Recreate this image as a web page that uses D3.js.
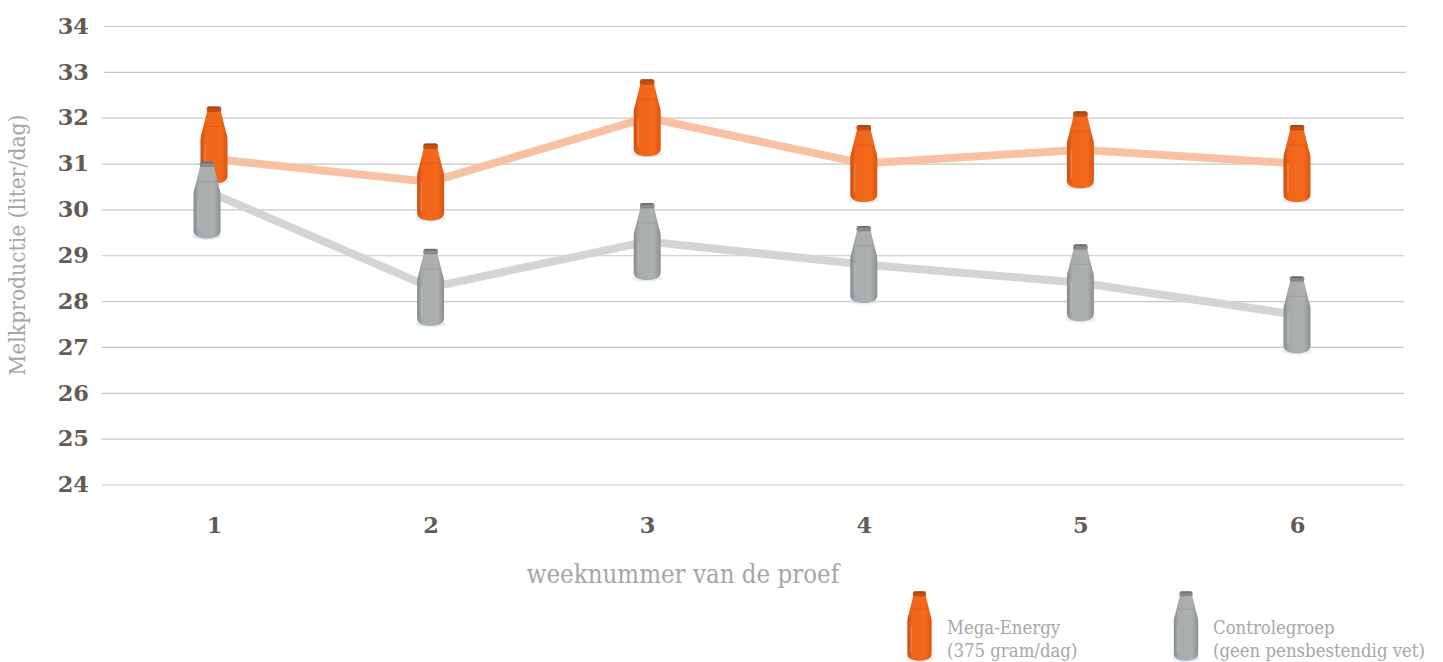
<!DOCTYPE html>
<html>
<head>
<meta charset="utf-8">
<script src="https://cdn.jsdelivr.net/npm/d3@7"></script>
<style>
  html, body { margin: 0; padding: 0; background: #fff; overflow: hidden; }
  svg { display: block; }
  .tick-label text { font-family: "DejaVu Serif", serif; font-weight: bold; font-size: 22.5px; fill: #645a54; }
  .title { font-family: "DejaVu Serif Condensed", "DejaVu Serif", serif; fill: #a6a6a6; }
</style>
</head>
<body>
<script>
/* ------------------------------- chart data ------------------------------- */
const weeks = [1, 2, 3, 4, 5, 6];
const megaEnergy = [31.1, 30.6, 32.0, 31.0, 31.3, 31.0];
const controle = [30.4, 28.3, 29.3, 28.8, 28.4, 27.7];
const yTicks = [24, 25, 26, 27, 28, 29, 30, 31, 32, 33, 34];
const legendLines = [
    ["Mega-Energy", "(375 gram/dag)"],
    ["Controlegroep", "(geen pensbestendig vet)"]
];

/* -------------------------- define document size -------------------------- */
const width = 1443, height = 662;
const svg = d3.select("body").append("svg").attr("width", width).attr("height", height);
const defs = svg.append("defs");

/* --------------------------------- scales --------------------------------- */
const x = d3.scalePoint().domain(weeks).range([214, 1297]);
const y = d3.scaleLinear().domain([24, 34]).range([484.5, 26]);

/* ------------------------------ bottle colors ----------------------------- */
const palette = {
    orange: { line: "#f9c1a3", stops: ["#c94f10", "#f0651a", "#f46a1c", "#d9550f"], lip: "#c25014", seam: "#d85c14", dark: "#9c3c0c" },
    gray: { line: "#d4d4d4", stops: ["#858b8d", "#a9acac", "#aeb0b0", "#8a8f91"], lip: "#85898a", seam: "#999c9d", dark: "#5f6364" }
};
Object.entries(palette).forEach(([name, p]) => {
    const grad = defs.append("linearGradient").attr("id", "body-" + name);
    [0, 0.2, 0.75, 1].forEach((o, i) => grad.append("stop").attr("offset", o).attr("stop-color", p.stops[i]));
});

// bottle outline in local units: 27 wide, 77 high, centred on 0,0
function bottlePath() {
    const p = d3.path();
    p.moveTo(-6.8, -35);
    p.lineTo(-7.3, -32);
    p.lineTo(-12, -13);
    p.bezierCurveTo(-13, -10, -13.5, -8, -13.5, -5);
    p.lineTo(-13.5, 31);
    p.bezierCurveTo(-13.5, 36, -8, 38.5, 0, 38.5);
    p.bezierCurveTo(8, 38.5, 13.5, 36, 13.5, 31);
    p.lineTo(13.5, -5);
    p.bezierCurveTo(13.5, -8, 13, -10, 12, -13);
    p.lineTo(7.3, -32);
    p.lineTo(6.8, -35);
    p.closePath();
    return p.toString();
}

function drawBottle(parent, name, cx, cy, scale) {
    const p = palette[name];
    const g = parent.append("g").attr("transform", `translate(${cx},${cy}) scale(${scale})`);
    g.append("ellipse").attr("cx", 0).attr("cy", 36.5).attr("rx", 15).attr("ry", 3.5).attr("fill", "#d6e6f0").attr("opacity", 0.7);
    g.append("path").attr("d", bottlePath()).attr("fill", `url(#body-${name})`);
    g.append("path").attr("d", "M-9,-18.5 L9,-18.5").attr("stroke", p.seam).attr("stroke-width", 1).attr("opacity", 0.8);
    g.append("path").attr("d", "M-9,0 L-9,29").attr("stroke", "#ffffff").attr("stroke-width", 0.8).attr("opacity", 0.35);
    g.append("rect").attr("x", -7.3).attr("y", -38.5).attr("width", 14.6).attr("height", 5.5).attr("rx", 2).attr("fill", p.lip);
    g.append("rect").attr("x", -5.5).attr("y", -38.2).attr("width", 11).attr("height", 1.1).attr("fill", p.dark);
}

/* ------------------------------- grid + axes ------------------------------ */
const yAxis = d3.axisLeft(y).tickValues(yTicks).tickSize(0).tickPadding(13).tickFormat(d3.format("d"));
const yG = svg.append("g").attr("class", "tick-label").attr("transform", "translate(102,0)").call(yAxis);
yG.select(".domain").remove();
yG.selectAll(".tick line")
    .attr("x1", d => d >= 33 ? 2.5 : 0).attr("x2", d => d >= 33 ? 1304 : 1302)
    .attr("stroke", "#c6c6c6").attr("stroke-width", 1.2);

const xAxis = d3.axisBottom(x).tickSize(0).tickPadding(0);
const xG = svg.append("g").attr("class", "tick-label").attr("transform", "translate(0,517)").call(xAxis);
xG.select(".domain").remove();

svg.append("text").attr("class", "title")
    .attr("x", 683).attr("y", 583).attr("text-anchor", "middle")
    .style("font-size", "25.6px")
    .text("weeknummer van de proef");

svg.append("text").attr("class", "title")
    .attr("transform", "translate(25,245) rotate(-90)").attr("text-anchor", "middle")
    .style("font-size", "22.6px")
    .text("Melkproductie (liter/dag)");

/* ------------------------------ series lines ------------------------------ */
// the first week's bottles sit a little off their point in the original
const firstOffset = { orange: [0, -14], gray: [-7, 9] };
const series = [
    { name: "orange", values: megaEnergy },
    { name: "gray", values: controle }
];
const pointX = (s, i) => x(weeks[i]) + (i === 0 ? firstOffset[s.name][0] : 0);

const line = d3.line();
series.forEach(s => {
    svg.append("path")
        .attr("d", line(s.values.map((v, i) => [pointX(s, i), y(v)])))
        .attr("fill", "none")
        .attr("stroke", palette[s.name].line)
        .attr("stroke-width", 8);
});

/* --------------------------------- bottles -------------------------------- */
series.forEach(s => {
    s.values.forEach((v, i) => {
        const dy = i === 0 ? firstOffset[s.name][1] : 0;
        drawBottle(svg, s.name, pointX(s, i), y(v) + dy, 1);
    });
});

/* --------------------------------- legend --------------------------------- */
const legendX = d3.scaleOrdinal().domain(["orange", "gray"]).range([919.5, 1186]);
series.forEach((s, i) => {
    drawBottle(svg, s.name, legendX(s.name), 626, 0.9);
    legendLines[i].forEach((t, j) => {
        svg.append("text").attr("class", "title")
            .attr("x", legendX(s.name) + (i === 0 ? 27.5 : 27))
            .attr("y", 634 + j * 23)
            .style("font-size", "18.4px")
            .text(t);
    });
});
</script>
</body>
</html>
